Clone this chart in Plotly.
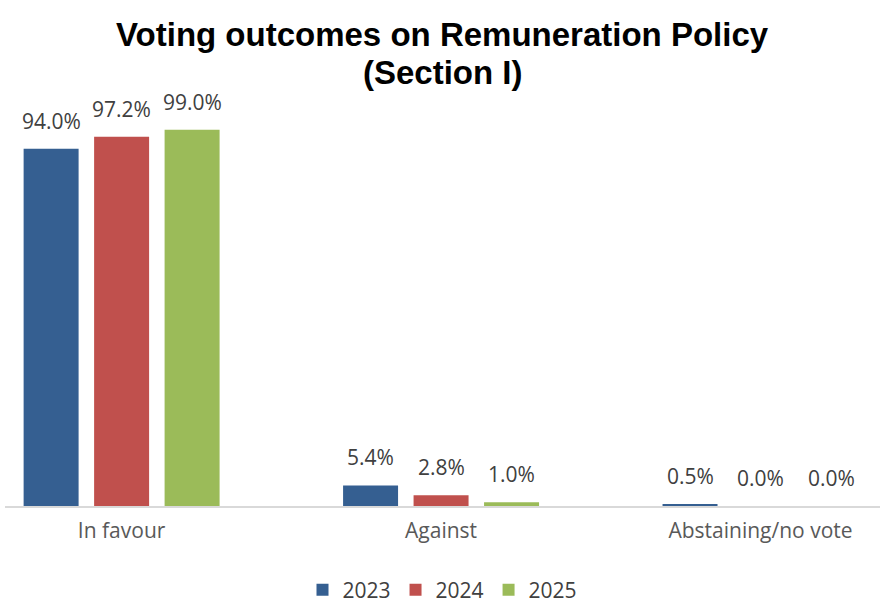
import plotly.graph_objects as go

categories = ["In favour", "Against", "Abstaining/no vote"]
years = ["2023", "2024", "2025"]
values_2023 = [94.0, 5.4, 0.5]
values_2024 = [97.2, 2.8, 0.0]
values_2025 = [99.0, 1.0, 0.0]
colors = ["#355F91", "#C0504D", "#9BBB59"]
title_lines = ["Voting outcomes on Remuneration Policy", "(Section I)"]

series = [values_2023, values_2024, values_2025]
FONT = "Open Sans, Noto Sans, sans-serif"

# plot-area geometry (pixels)
PLOT_TOP, PLOT_BOTTOM = 88, 506
PLOT_H = PLOT_BOTTOM - PLOT_TOP
SLOT_PX = 70.5  # distance between bar centres within a group

fig = go.Figure()
for yr, vals, col in zip(years, series, colors):
    fig.add_trace(go.Bar(
        x=categories, y=vals, name=yr, marker_color=col,
        marker_line_width=0,
    ))

annotations = []
for i, vals in enumerate(series):
    for cat, v in zip(categories, vals):
        annotations.append(dict(
            x=cat, y=v, xref="x", yref="y", text=f"{v:.1f}%",
            showarrow=False, xanchor="center", yanchor="bottom",
            xshift=(i - 1) * SLOT_PX, yshift=12,
            font=dict(size=21, color="#404040", family=FONT),
        ))

for line, px in zip(title_lines, [34, 72]):
    annotations.append(dict(
        x=0.5, y=(PLOT_BOTTOM - px) / PLOT_H, xref="paper", yref="paper",
        text=f"<b>{line}</b>", showarrow=False, xanchor="center", yanchor="middle",
        font=dict(size=33, color="black", family="Liberation Sans, Arial, sans-serif"),
    ))

fig.update_layout(
    width=886, height=603,
    margin=dict(l=5, r=6, t=PLOT_TOP, b=603 - PLOT_BOTTOM, autoexpand=False),
    paper_bgcolor="white", plot_bgcolor="white",
    barmode="group", bargap=0.338, bargroupgap=0.22,
    annotations=annotations,
    xaxis=dict(range=[-0.365, 2.374], showline=True, linecolor="#D9D9D9", linewidth=1.5,
               ticks="", showgrid=False, ticklabelstandoff=5,
               tickfont=dict(size=21, color="#595959", family=FONT)),
    yaxis=dict(range=[0, 110], visible=False, showgrid=False, zeroline=False),
    legend=dict(orientation="h", x=0.5, xanchor="center",
                y=(PLOT_BOTTOM - 590) / PLOT_H, yanchor="middle",
                font=dict(size=21, color="#404040", family=FONT),
                itemwidth=30, traceorder="normal"),
    showlegend=True,
)

fig.write_html("out.html")
